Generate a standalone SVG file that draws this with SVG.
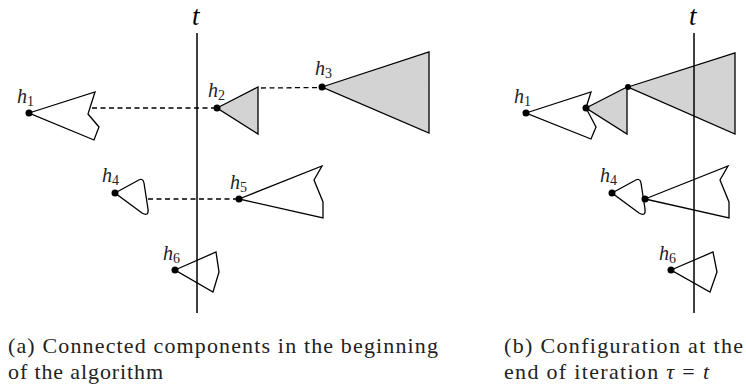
<svg xmlns="http://www.w3.org/2000/svg" width="746" height="389" viewBox="0 0 746 389">
<style>
.sh{fill:#fff;stroke:#000;stroke-width:1.3}
.op{fill:none;stroke:#000;stroke-width:1.3}
.gr{fill:#d3d3d3;stroke:#000;stroke-width:1.3}
.dot{fill:#000}
.axis{stroke:#000;stroke-width:1.5}
.dash{stroke:#000;stroke-width:1.3;stroke-dasharray:5 3.5;fill:none}
.lab{font-family:'Liberation Serif',serif;font-style:italic;font-size:20px;fill:#222}
.sub{font-style:normal;font-size:14px}
.tl{font-family:'Liberation Serif',serif;font-style:italic;font-size:27px;fill:#000}
.cap{font-family:'Liberation Serif',serif;font-size:22px;fill:#222}
</style>
<rect width="746" height="389" fill="#fff"/>

<g id="a-axis">
<line class="axis" x1="197" y1="33" x2="197" y2="313"/>
<text class="tl" x="192" y="25">t</text>
</g>
<g id="a-connectors">
<line class="dash" x1="92" y1="108" x2="217" y2="108"/>
<line class="dash" x1="261" y1="88" x2="322" y2="87.5"/>
<line class="dash" x1="148" y1="199" x2="239" y2="199"/>
</g>
<g id="a-h1">
<polygon class="sh" points="29,113 95,92 88,114 99,127 94,140"/>
<circle class="dot" cx="29" cy="113" r="3.5"/>
<text class="lab" x="17" y="103">h<tspan class="sub" dy="3">1</tspan></text>
</g>
<g id="a-h2">
<polygon class="gr" points="217,108 258,87 258,134"/>
<circle class="dot" cx="217" cy="108" r="3.5"/>
<text class="lab" x="208" y="97">h<tspan class="sub" dy="3">2</tspan></text>
</g>
<g id="a-h3">
<polygon class="gr" points="322,87 429,52 429,133"/>
<circle class="dot" cx="322" cy="87" r="3.5"/>
<text class="lab" x="315" y="75">h<tspan class="sub" dy="3">3</tspan></text>
</g>
<g id="a-h4">
<path class="sh" d="M115,193 L137,181 Q143,177 144,183 L148,209 Q149,217 142,213 Z"/>
<circle class="dot" cx="115" cy="193" r="3.5"/>
<text class="lab" x="102" y="182">h<tspan class="sub" dy="3">4</tspan></text>
</g>
<g id="a-h5">
<polygon class="sh" points="239,199 322,166 314,180 323,202 323,218"/>
<circle class="dot" cx="239" cy="199" r="3.5"/>
<text class="lab" x="230" y="189">h<tspan class="sub" dy="3">5</tspan></text>
</g>
<g id="a-h6">
<polygon class="op" points="175,270 216,252 219,272 213,292"/>
<circle class="dot" cx="175" cy="270" r="3.5"/>
<text class="lab" x="163" y="260">h<tspan class="sub" dy="3">6</tspan></text>
</g>

<g id="b-h1">
<polygon class="sh" points="526,113 591,92 586,108 596,127 591,139"/>
<circle class="dot" cx="526" cy="113" r="3.5"/>
<text class="lab" x="514" y="103">h<tspan class="sub" dy="3">1</tspan></text>
</g>
<g id="b-h2">
<polygon class="gr" points="586,108 627,87 627,134"/>
<circle class="dot" cx="586" cy="108" r="3.5"/>
</g>
<g id="b-h3">
<polygon class="gr" points="628,87 735,53 735,134"/>
<circle class="dot" cx="628" cy="87" r="3"/>
</g>
<g id="b-h5">
<polygon class="sh" points="645,199 728,166 720,180 729,202 729,218"/>
</g>
<g id="b-h4">
<path class="sh" d="M612,193 L634,181 Q640,177 641,183 L645,209 Q646,217 639,213 Z"/>
<circle class="dot" cx="612" cy="193" r="3.5"/>
<circle class="dot" cx="645" cy="199" r="3.5"/>
<text class="lab" x="600" y="182">h<tspan class="sub" dy="3">4</tspan></text>
</g>
<g id="b-h6">
<polygon class="op" points="671,270 713,252 717,272 710,292"/>
<circle class="dot" cx="671" cy="270" r="3.5"/>
<text class="lab" x="659" y="260">h<tspan class="sub" dy="3">6</tspan></text>
</g>
<g id="b-axis">
<line class="axis" x1="694" y1="33" x2="694" y2="313"/>
<text class="tl" x="689" y="25">t</text>
</g>

<g id="captions">
<text class="cap" x="8" y="353" textLength="430" lengthAdjust="spacing">(a) Connected components in the beginning</text>
<text class="cap" x="8" y="379" textLength="155" lengthAdjust="spacing">of the algorithm</text>
<text class="cap" x="504" y="353" textLength="239" lengthAdjust="spacing">(b) Configuration at the</text>
<text class="cap" x="504" y="379" textLength="205" lengthAdjust="spacing">end of iteration <tspan font-style="italic">τ</tspan> = <tspan font-style="italic">t</tspan></text>
</g>
</svg>
